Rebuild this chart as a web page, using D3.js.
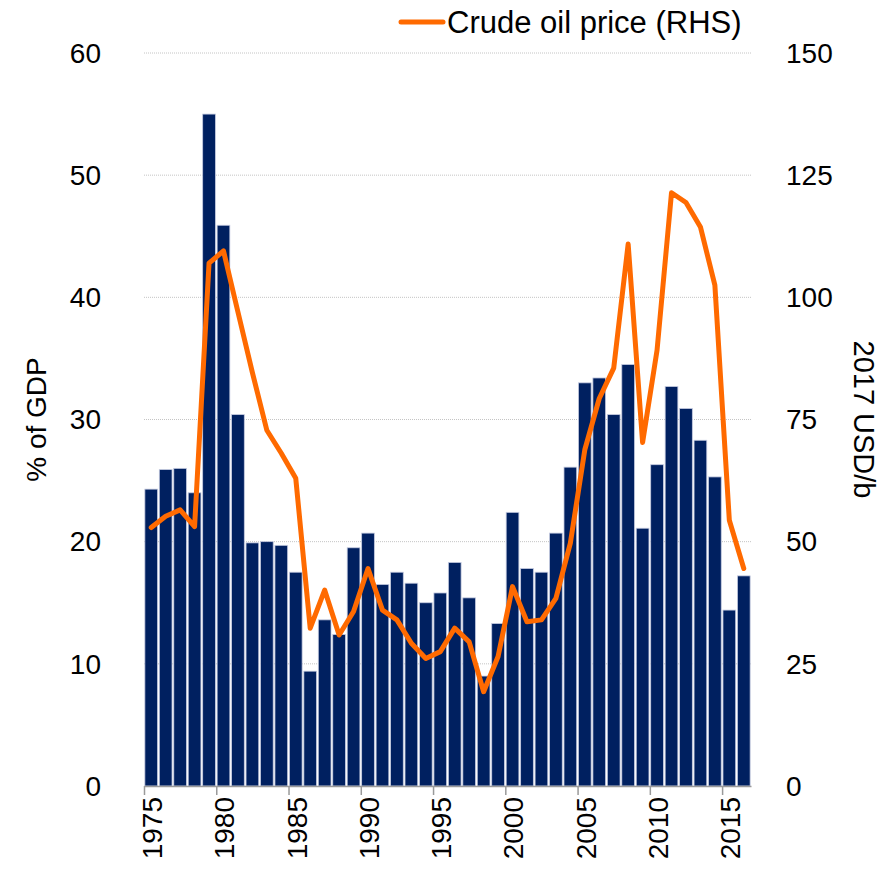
<!DOCTYPE html>
<html>
<head>
<meta charset="utf-8">
<script src="https://cdn.jsdelivr.net/npm/d3@7"></script>
<style>
  body { margin: 0; background: #fff; }
  text { font-family: "Liberation Sans", Arial, sans-serif; fill: #000; }
</style>
</head>
<body>
<div class="chart"></div>
<script>
// data
const years = ["1975", "1976", "1977", "1978", "1979", "1980", "1981", "1982", "1983", "1984",
  "1985", "1986", "1987", "1988", "1989", "1990", "1991", "1992", "1993", "1994",
  "1995", "1996", "1997", "1998", "1999", "2000", "2001", "2002", "2003", "2004",
  "2005", "2006", "2007", "2008", "2009", "2010", "2011", "2012", "2013", "2014",
  "2015", "2016"];

// bars, % of GDP (LHS)
const shareOfGdp = [24.3, 25.9, 26.0, 24.0, 55.0, 45.9, 30.4, 19.9, 20.0, 19.7,
  17.5, 9.4, 13.6, 12.4, 19.5, 20.7, 16.5, 17.5, 16.6, 15.0,
  15.8, 18.3, 15.4, 9.0, 13.3, 22.4, 17.8, 17.5, 20.7, 26.1,
  33.0, 33.4, 30.4, 34.5, 21.1, 26.3, 32.7, 30.9, 28.3, 25.3,
  14.4, 17.2];

// line, crude oil price in 2017 USD/b (RHS)
const oilPrice = [52.9, 55.2, 56.5, 53.1, 107.0, 109.5, 97.0, 84.6, 72.8, 68.1,
  63.0, 32.3, 40.1, 30.9, 35.7, 44.5, 36.0, 34.0, 29.2, 26.1,
  27.5, 32.3, 29.5, 19.3, 26.5, 40.8, 33.6, 34.0, 38.4, 49.7,
  68.8, 79.3, 85.5, 110.9, 70.3, 89.2, 121.4, 119.4, 114.4, 102.5,
  54.4, 44.5];

const leftTicks = [0, 10, 20, 30, 40, 50, 60];
const rightTicks = [0, 25, 50, 75, 100, 125, 150];
const labelYears = ["1975", "1980", "1985", "1990", "1995", "2000", "2005", "2010", "2015"];

const width = 889;
const height = 876;
const plotLeft = 144, plotRight = 751, plotTop = 53, plotBottom = 786;

const graph = d3.select(".chart")
  .append("svg")
  .attr("width", width)
  .attr("height", height);

// scales
const x = d3.scaleBand()
  .domain(years)
  .range([plotLeft, plotRight])
  .paddingInner(0.12)
  .paddingOuter(0.06);

// boundaries between categories, for the tick marks
const xEdge = d3.scaleLinear()
  .domain([+years[0], +years[years.length - 1] + 1])
  .range([plotLeft, plotRight]);

const yLeft = d3.scaleLinear().domain([0, 60]).range([plotBottom, plotTop]);
const yRight = d3.scaleLinear().domain([0, 150]).range([plotBottom, plotTop]);

// dotted gridlines, behind the bars
graph.append("g")
  .selectAll("line")
  .data(leftTicks.filter(d => d > 0))
  .enter()
  .append("line")
  .attr("x1", plotLeft)
  .attr("x2", plotRight)
  .attr("y1", d => yLeft(d))
  .attr("y2", d => yLeft(d))
  .attr("stroke", "#c4c4c4")
  .attr("stroke-width", 1)
  .attr("stroke-dasharray", "1,1");

// bars
graph.append("g")
  .selectAll("rect")
  .data(shareOfGdp)
  .enter()
  .append("rect")
  .attr("x", (d, i) => x(years[i]))
  .attr("y", d => yLeft(d))
  .attr("width", x.bandwidth())
  .attr("height", d => yLeft(0) - yLeft(d))
  .attr("fill", "#002060")
  .attr("stroke", "#c5cbe0")
  .attr("stroke-width", 0.8);

// x axis: line + tick marks at every 5th boundary
graph.append("g")
  .attr("transform", `translate(0,${plotBottom})`)
  .call(d3.axisBottom(xEdge)
    .tickValues(labelYears.map(d => +d))
    .tickFormat("")
    .tickSize(9)
    .tickSizeOuter(0))
  .call(g => g.select(".domain").attr("stroke", "#9a9a9a").attr("stroke-width", 1.5))
  .call(g => g.selectAll(".tick line").attr("stroke", "#9a9a9a").attr("stroke-width", 1.5));

// x labels, rotated
graph.append("g")
  .selectAll("text")
  .data(labelYears)
  .enter()
  .append("text")
  .attr("transform", d => `translate(${x(d) + x.bandwidth() / 2 + 1},${plotBottom + 11}) rotate(-90)`)
  .attr("text-anchor", "end")
  .attr("dy", "0.35em")
  .style("font-size", "28px")
  .text(d => d);

// oil price line
const line = d3.line()
  .x((d, i) => x(years[i]) + x.bandwidth() / 2)
  .y(d => yRight(d));

graph.append("path")
  .datum(oilPrice)
  .attr("d", line)
  .attr("fill", "none")
  .attr("stroke", "#ff6a00")
  .attr("stroke-width", 5)
  .attr("stroke-linejoin", "round")
  .attr("stroke-linecap", "round");

// left tick labels
graph.append("g")
  .selectAll("text")
  .data(leftTicks)
  .enter()
  .append("text")
  .attr("x", 101)
  .attr("y", d => yLeft(d))
  .attr("dy", "0.35em")
  .attr("text-anchor", "end")
  .style("font-size", "28px")
  .text(d => d);

// right tick labels
graph.append("g")
  .selectAll("text")
  .data(rightTicks)
  .enter()
  .append("text")
  .attr("x", 786)
  .attr("y", d => yRight(d))
  .attr("dy", "0.35em")
  .attr("text-anchor", "start")
  .style("font-size", "28px")
  .text(d => d);

// axis titles
graph.append("text")
  .attr("transform", `translate(36,${(plotTop + plotBottom) / 2}) rotate(-90)`)
  .attr("text-anchor", "middle")
  .attr("dy", "0.35em")
  .style("font-size", "28px")
  .text("% of GDP");

graph.append("text")
  .attr("transform", `translate(864,${(plotTop + plotBottom) / 2}) rotate(90)`)
  .attr("text-anchor", "middle")
  .attr("dy", "0.35em")
  .style("font-size", "29px")
  .text("2017 USD/b");

// legend
const legend = graph.append("g").attr("transform", "translate(401,22)");
legend.append("line")
  .attr("x1", 0)
  .attr("x2", 42)
  .attr("stroke", "#ff6a00")
  .attr("stroke-width", 5)
  .attr("stroke-linecap", "round");
legend.append("text")
  .attr("x", 46)
  .attr("dy", "0.35em")
  .style("font-size", "31px")
  .text("Crude oil price (RHS)");
</script>
</body>
</html>
